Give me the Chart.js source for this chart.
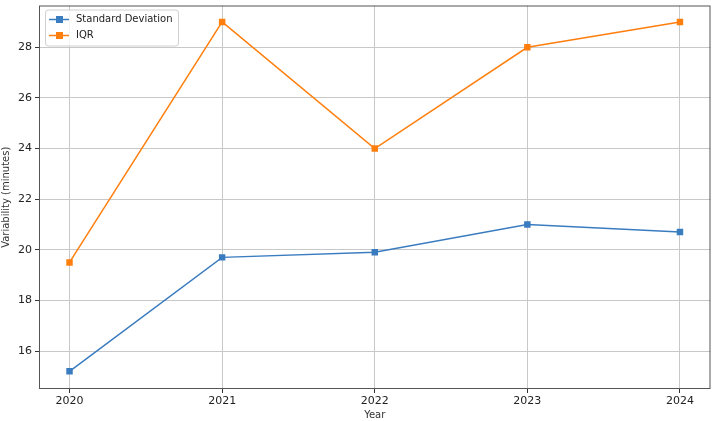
<!DOCTYPE html>
<html>
<head>
<meta charset="utf-8">
<script src="https://cdn.jsdelivr.net/npm/chart.js@4.4.0/dist/chart.umd.min.js"></script>
<style>
  html, body { margin: 0; padding: 0; background: #fff; }
  #wrap { width: 716px; height: 421px; }
</style>
</head>
<body>
<div id="wrap"><canvas id="chart" width="716" height="421"></canvas></div>
<script>
var years = [2020, 2021, 2022, 2023, 2024];
var stdDev = [15.2, 19.7, 19.9, 21.0, 20.7];
var iqr = [19.5, 29.0, 24.0, 28.0, 29.0];
var yTicks = [16, 18, 20, 22, 24, 26, 28];

var blue = '#3a7cc0', orange = '#ff7f0e';
var font = { family: 'DejaVu Sans', size: 11 };

function points(values) {
    return years.map(function(y, i) { return { x: y, y: values[i] }; });
}

// matplotlib-style legend box inside the plot + full frame
var framePlugin = {
    id: 'frame',
    afterDraw: function(chart) {
        var ctx = chart.ctx, a = chart.chartArea;
        ctx.save();
        ctx.strokeStyle = '#555';
        ctx.lineWidth = 1;
        ctx.strokeRect(a.left + 0.5, a.top + 0.5, a.right - a.left - 1, a.bottom - a.top - 1);

        var bx = a.left + 6, by = a.top + 4, bw = 133, bh = 36;
        ctx.fillStyle = 'rgba(255,255,255,0.8)';
        ctx.strokeStyle = '#d0d0d0';
        ctx.beginPath();
        ctx.roundRect(bx + 0.5, by + 0.5, bw, bh, 3);
        ctx.fill();
        ctx.stroke();

        ctx.font = '10px "DejaVu Sans"';
        ctx.textBaseline = 'middle';
        chart.data.datasets.forEach(function(ds, i) {
            var cy = by + 10 + i * 16;
            ctx.strokeStyle = ds.borderColor;
            ctx.lineWidth = 1.5;
            ctx.beginPath();
            ctx.moveTo(bx + 4, cy);
            ctx.lineTo(bx + 24, cy);
            ctx.stroke();
            ctx.fillStyle = ds.borderColor;
            ctx.fillRect(bx + 11, cy - 3.5, 7, 7);
            ctx.fillStyle = '#222';
            ctx.fillText(ds.label, bx + 31, cy);
        });
        ctx.restore();
    }
};

new Chart(document.getElementById('chart'), {
    type: 'line',
    data: {
        datasets: [{
            label: 'Standard Deviation',
            data: points(stdDev),
            borderColor: blue,
            backgroundColor: blue,
            borderWidth: 1.5,
            pointStyle: 'rect',
            pointRadius: 3.5,
            tension: 0
        }, {
            label: 'IQR',
            data: points(iqr),
            borderColor: orange,
            backgroundColor: orange,
            borderWidth: 1.5,
            pointStyle: 'rect',
            pointRadius: 3.5,
            tension: 0
        }]
    },
    options: {
        responsive: false,
        animation: false,
        layout: { padding: { top: 4, right: 4, left: 0, bottom: 0 } },
        plugins: { legend: { display: false }, tooltip: { enabled: false } },
        scales: {
            x: {
                type: 'linear',
                min: 2019.8,
                max: 2024.2,
                afterBuildTicks: function(s) { s.ticks = years.map(function(v) { return { value: v }; }); },
                afterFit: function(s) { s.height = 32; s.paddingLeft = 0; s.paddingRight = 0; },
                ticks: { color: '#222', font: font, padding: 2, callback: function(v) { return String(v); } },
                grid: { color: '#c8c8c8', tickColor: '#333', tickLength: 4 },
                border: { display: false },
                title: { display: true, text: 'Year', color: '#333', font: { family: 'DejaVu Sans', size: 10 }, padding: { top: 0, bottom: 0 } }
            },
            y: {
                min: 14.5,
                max: 29.65,
                afterBuildTicks: function(s) { s.ticks = yTicks.map(function(v) { return { value: v }; }); },
                afterFit: function(s) { s.width = 39; s.paddingTop = 0; s.paddingBottom = 0; },
                ticks: { color: '#222', font: font, padding: 3 },
                grid: { color: '#c8c8c8', tickColor: '#333', tickLength: 4 },
                border: { display: false },
                title: { display: true, text: 'Variability (minutes)', color: '#333', font: { family: 'DejaVu Sans', size: 10 }, padding: { top: 0, bottom: 0 } }
            }
        }
    },
    plugins: [framePlugin]
});
</script>
</body>
</html>
